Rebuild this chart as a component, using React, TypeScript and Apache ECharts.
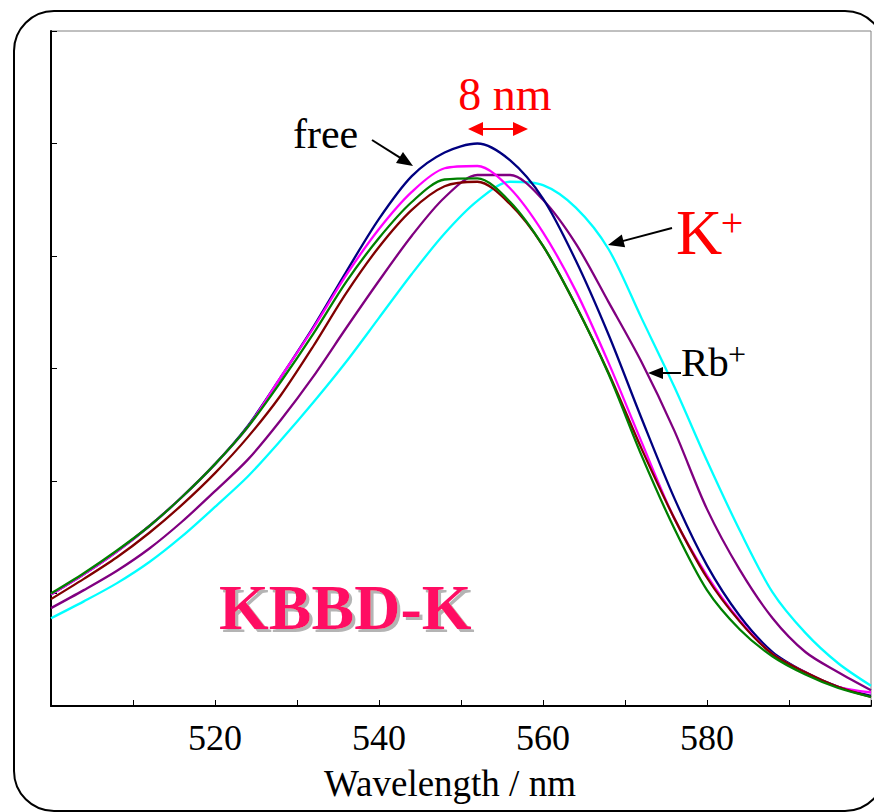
import React, { useEffect, useRef } from 'react';
import * as echarts from 'echarts';

// Wavelength grid (nm), 4 nm steps
const wavelengths = [500, 504, 508, 512, 516, 520, 524, 528, 532, 536, 540, 544, 548, 552, 556, 560, 564, 568, 572, 576, 580, 584, 588, 592, 596, 600];

// Fluorescence intensity (arbitrary units)
const freeValues = [0.99, 1.17, 1.37, 1.60, 1.86, 2.15, 2.49, 2.92, 3.37, 3.86, 4.33, 4.71, 4.92, 5.00, 4.85, 4.51, 3.96, 3.30, 2.56, 1.85, 1.25, 0.80, 0.48, 0.30, 0.17, 0.09];
const liValues = [0.99, 1.17, 1.37, 1.60, 1.86, 2.15, 2.48, 2.92, 3.36, 3.83, 4.24, 4.57, 4.78, 4.80, 4.60, 4.21, 3.69, 3.05, 2.35, 1.67, 1.16, 0.76, 0.46, 0.30, 0.17, 0.12];
const naValues = [1.00, 1.18, 1.38, 1.60, 1.86, 2.15, 2.48, 2.88, 3.31, 3.77, 4.16, 4.48, 4.68, 4.69, 4.48, 4.09, 3.56, 2.95, 2.23, 1.58, 1.03, 0.68, 0.44, 0.28, 0.16, 0.08];
const csValues = [0.95, 1.13, 1.32, 1.54, 1.79, 2.07, 2.39, 2.76, 3.20, 3.67, 4.08, 4.41, 4.62, 4.66, 4.46, 4.09, 3.56, 2.96, 2.29, 1.67, 1.14, 0.75, 0.46, 0.30, 0.17, 0.08];
const rbValues = [0.87, 1.03, 1.20, 1.40, 1.64, 1.91, 2.19, 2.54, 2.93, 3.36, 3.78, 4.18, 4.52, 4.72, 4.72, 4.50, 4.11, 3.59, 3.06, 2.45, 1.75, 1.21, 0.78, 0.48, 0.30, 0.14];
const kValues = [0.78, 0.93, 1.09, 1.28, 1.51, 1.77, 2.04, 2.36, 2.70, 3.06, 3.45, 3.84, 4.20, 4.49, 4.66, 4.63, 4.43, 4.06, 3.45, 2.84, 2.18, 1.56, 1.01, 0.65, 0.38, 0.18];

const xTickLabels = [520, 540, 560, 580];

const seriesDefs = [
  { name: 'K+', color: '#00ffff', values: kValues },
  { name: 'Rb+', color: '#800080', values: rbValues },
  { name: 'free', color: '#000080', values: freeValues },
  { name: 'Li+', color: '#ff00ff', values: liValues },
  { name: 'Cs+', color: '#800000', values: csValues },
  { name: 'Na+', color: '#008000', values: naValues },
];

const SERIF = '"Liberation Serif", "Times New Roman", Times, serif';

function arrowHead(tx: number, ty: number, ux: number, uy: number, len: number, w: number, color: string) {
  const bx = tx - ux * len;
  const by = ty - uy * len;
  const px = -uy;
  const py = ux;
  return {
    type: 'polygon',
    z: 100,
    shape: { points: [[tx, ty], [bx + (px * w) / 2, by + (py * w) / 2], [bx - (px * w) / 2, by - (py * w) / 2]] },
    style: { fill: color },
  };
}

function arrow(x1: number, y1: number, x2: number, y2: number, color: string, len: number, w: number, lw: number, both = false) {
  const dx = x2 - x1;
  const dy = y2 - y1;
  const L = Math.hypot(dx, dy);
  const ux = dx / L;
  const uy = dy / L;
  const sx = both ? x1 + ux * (len - 1) : x1;
  const sy = both ? y1 + uy * (len - 1) : y1;
  const els: any[] = [
    {
      type: 'line',
      z: 100,
      shape: { x1: sx, y1: sy, x2: x2 - ux * (len - 1), y2: y2 - uy * (len - 1) },
      style: { stroke: color, lineWidth: lw },
    },
    arrowHead(x2, y2, ux, uy, len, w, color),
  ];
  if (both) els.push(arrowHead(x1, y1, -ux, -uy, len, w, color));
  return els;
}

function txt(text: string, x: number, y: number, size: number, fill: string, align = 'left', weight: any = 'normal', extra: any = {}) {
  return {
    type: 'text',
    z: 100,
    x,
    y,
    style: { text, fontSize: size, fontFamily: SERIF, fontWeight: weight, fill, align, verticalAlign: 'middle', ...extra },
  };
}

export default function App() {
  const ref = useRef<HTMLDivElement>(null);
  useEffect(() => {
    if (!ref.current) return;
    const chart = echarts.init(ref.current, null, { renderer: 'svg' });
    const option: any = {
      animation: false,
      backgroundColor: '#ffffff',
      grid: {
        left: 51,
        right: 2,
        top: 31,
        bottom: 106,
        show: true,
        borderColor: '#808080',
        borderWidth: 1,
        backgroundColor: 'transparent',
      },
      xAxis: {
        type: 'value',
        min: 500,
        max: 600,
        interval: 10,
        name: 'Wavelength / nm',
        nameLocation: 'middle',
        nameGap: 59,
        nameTextStyle: { fontFamily: SERIF, fontSize: 37, color: '#000', lineHeight: 37, padding: [0, 22, 0, 0] },
        axisLine: { show: true, lineStyle: { color: '#000', width: 2 } },
        axisTick: { show: true, inside: true, length: 6, lineStyle: { color: '#000', width: 1 } },
        axisLabel: {
          fontFamily: SERIF,
          fontSize: 36,
          lineHeight: 36,
          color: '#000',
          margin: 14,
          formatter: (v: number) => (xTickLabels.includes(v) ? String(v) : ''),
        },
        splitLine: { show: false },
      },
      yAxis: {
        type: 'value',
        min: 0,
        max: 6,
        interval: 1,
        axisLine: { show: true, lineStyle: { color: '#000', width: 2 } },
        axisTick: { show: true, inside: true, length: 6, lineStyle: { color: '#000', width: 1 } },
        axisLabel: { show: false },
        splitLine: { show: false },
      },
      series: seriesDefs.map((s) => ({
        name: s.name,
        type: 'line',
        data: wavelengths.map((w, i) => [w, s.values[i]]),
        showSymbol: false,
        smooth: 0.3,
        lineStyle: { color: s.color, width: 2.3 },
        itemStyle: { color: s.color },
      })),
      graphic: [
        {
          type: 'rect',
          z: 0,
          shape: { x: 14, y: 11, width: 871, height: 800, r: 40 },
          style: { fill: 'none', stroke: '#000', lineWidth: 2 },
        },
        txt('free', 293, 134, 42, '#000'),
        ...arrow(372, 140, 413, 166, '#000', 16, 13, 2),
        txt('8 nm', 505, 94, 46, '#ff0000', 'center'),
        ...arrow(468, 129, 528, 129, '#ff0000', 15, 14, 2, true),
        txt('K', 676, 232, 64, '#ff0000'),
        txt('+', 732, 222, 40, '#ff0000', 'center'),
        ...arrow(672, 228, 608, 245, '#000', 16, 13, 2),
        txt('Rb', 681, 362, 41, '#000'),
        txt('+', 737, 354, 32, '#000', 'center'),
        ...arrow(681, 373, 648, 373, '#000', 15, 12, 2),
        txt('KBBD-K', 219, 607, 64, '#ff0a64', 'left', 'bold', {
          textShadowColor: '#b4b4b4',
          textShadowOffsetX: 3,
          textShadowOffsetY: 3,
          textShadowBlur: 0.5,
        }),
      ],
    };
    chart.setOption(option);
    return () => chart.dispose();
  }, []);
  return (
    <div
      ref={ref}
      style={{ position: 'fixed', left: 0, top: 0, width: 874, height: 812, background: '#fff' }}
    />
  );
}
